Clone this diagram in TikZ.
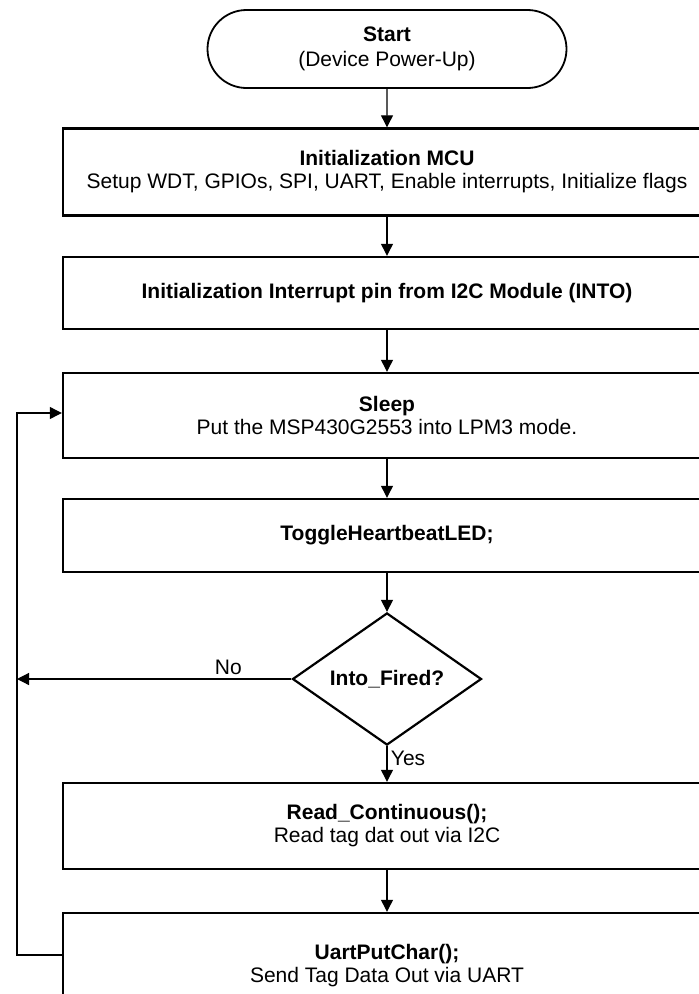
\documentclass[tikz,border=0pt]{standalone}
\usepackage{fontspec}
\setmainfont{Liberation Sans}
\usetikzlibrary{arrows.meta,shapes.geometric,shapes.misc}
\tikzset{
  box/.style={draw,line width=2.4pt,minimum width=648pt,inner sep=0pt,align=center},
  term/.style={draw,rounded rectangle,line width=1.8pt,minimum width=359pt,minimum height=78pt,inner sep=0pt,align=center,font=\fontsize{21}{25}\selectfont},
  test/.style={draw,diamond,line width=2.2pt,minimum width=189pt,minimum height=128pt,inner sep=0pt},
  flow/.style={line width=1.2pt,-{Triangle[length=12pt,width=12pt]}}
}
\begin{document}
\begin{tikzpicture}[x=1pt,y=-1pt,every node/.style={font=\fontsize{21}{23}\selectfont}]
      \useasboundingbox (0,0) rectangle (699,994);
      \clip (0,0) rectangle (699,994);
      \draw
        (387,49) node[term] (start){\textbf{Start}\\(Device Power-Up)}
        (387,172) node[box,minimum height=87pt] (init){\textbf{Initialization MCU}\\Setup WDT, GPIOs, SPI, UART, Enable interrupts, Initialize flags}
        (387,293) node[box,minimum height=72pt] (intpin){\textbf{Initialization Interrupt pin from I2C Module (INTO)}}
        (387,415.5) node[box,minimum height=85pt] (sleep){\textbf{Sleep}\\Put the MSP430G2553 into LPM3 mode.}
        (387,535.5) node[box,minimum height=73pt] (toggle){\textbf{ToggleHeartbeatLED;}}
        (387,679) node[test] (fired){\textbf{Into\_Fired?}}
        (387,826) node[box,minimum height=86pt] (read){\textbf{Read\_Continuous();}\\Read tag dat out via I2C}
        (387,966) node[box,minimum height=106pt] (uart){\textbf{UartPutChar();}\\Send Tag Data Out via UART};
      \coordinate (loopt) at (17,413);
      \coordinate (loopb) at (17,955);
      \begin{scope}[flow]
        \draw (start) to (init);
        \draw (init) to (intpin);
        \draw (intpin) to (sleep);
        \draw (sleep) to (toggle);
        \draw (toggle) to (fired);
        \draw (fired) to node[pos=0.35,right]{Yes} (read);
        \draw (read) to (uart);
        \draw (fired.west) to node[pos=0.23,above]{No} (fired.west -| loopt);
        \draw (uart.west |- loopb) -- (loopb) -- (loopt) -- (sleep.west |- loopt);
      \end{scope}
    \end{tikzpicture}
\end{document}
